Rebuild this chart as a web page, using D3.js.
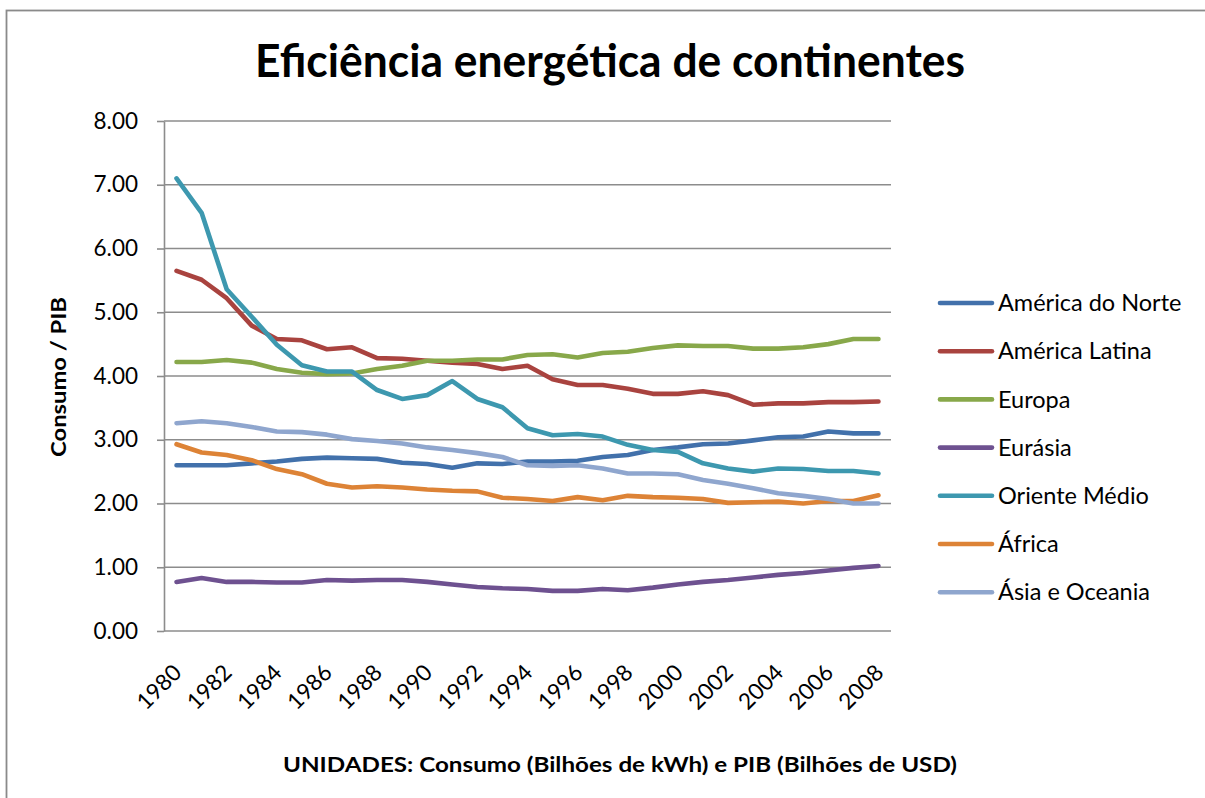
<!DOCTYPE html>
<html>
<head>
<meta charset="utf-8">
<script src="https://cdn.jsdelivr.net/npm/d3@7"></script>
<style>
  body { margin: 0; background: #fff; }
  svg text { font-family: Lato, "Open Sans", sans-serif; fill: #000; }
</style>
</head>
<body>
<div id="chart"></div>
<script>
// categories
var years = [1980,1981,1982,1983,1984,1985,1986,1987,1988,1989,1990,1991,1992,1993,1994,
             1995,1996,1997,1998,1999,2000,2001,2002,2003,2004,2005,2006,2007,2008];
var yTicks = [0,1,2,3,4,5,6,7,8];

// series values (consumo / PIB)
var americaNorte  = [2.60,2.60,2.60,2.63,2.66,2.70,2.72,2.71,2.70,2.64,2.62,2.56,2.63,2.62,2.66,2.66,2.67,2.73,2.76,2.84,2.88,2.93,2.94,2.99,3.04,3.05,3.13,3.10,3.10];
var americaLatina = [5.65,5.51,5.22,4.79,4.58,4.56,4.42,4.45,4.28,4.27,4.24,4.21,4.19,4.11,4.16,3.95,3.86,3.86,3.80,3.72,3.72,3.76,3.70,3.55,3.57,3.57,3.59,3.59,3.60];
var europa        = [4.22,4.22,4.25,4.21,4.11,4.05,4.03,4.04,4.11,4.16,4.24,4.24,4.26,4.26,4.33,4.34,4.29,4.36,4.38,4.44,4.48,4.47,4.47,4.43,4.43,4.45,4.50,4.58,4.58];
var eurasia       = [0.77,0.83,0.77,0.77,0.76,0.76,0.80,0.79,0.80,0.80,0.77,0.73,0.69,0.67,0.66,0.63,0.63,0.66,0.64,0.68,0.73,0.77,0.80,0.84,0.88,0.91,0.95,0.99,1.02];
var orienteMedio  = [7.10,6.56,5.36,4.93,4.49,4.17,4.07,4.07,3.78,3.64,3.70,3.92,3.64,3.51,3.18,3.07,3.09,3.05,2.92,2.84,2.81,2.63,2.55,2.50,2.55,2.54,2.51,2.51,2.47];
var africa        = [2.93,2.80,2.76,2.68,2.54,2.46,2.31,2.25,2.27,2.25,2.22,2.20,2.19,2.09,2.07,2.04,2.10,2.05,2.12,2.10,2.09,2.07,2.01,2.02,2.03,2.00,2.04,2.04,2.13];
var asiaOceania   = [3.26,3.29,3.26,3.20,3.13,3.12,3.08,3.01,2.98,2.94,2.88,2.84,2.79,2.73,2.60,2.59,2.60,2.55,2.47,2.47,2.46,2.37,2.31,2.24,2.16,2.12,2.07,2.00,2.00];

var seriesNames  = ['América do Norte','América Latina','Europa','Eurásia','Oriente Médio','África','Ásia e Oceania'];
var seriesValues = [americaNorte, americaLatina, europa, eurasia, orienteMedio, africa, asiaOceania];
var seriesColors = ['#4271AB','#A9433F','#88A84A','#6E5190','#3D98AF','#DD8336','#8FA6CE'];

var width = 1205, height = 798;
var plot = { left: 164, right: 891, top: 121, bottom: 631 };

var svg = d3.select('#chart').append('svg')
    .attr('width', width)
    .attr('height', height);

// chart frame (only top/left visible, like the source crop)
svg.append('rect')
    .attr('x', 6.5).attr('y', 10.5)
    .attr('width', 1400).attr('height', 1000)
    .attr('fill', 'none')
    .attr('stroke', '#8a8a8a')
    .attr('stroke-width', 1.8);

var x = d3.scalePoint().domain(years).range([plot.left, plot.right]).padding(0.5);
var y = d3.scaleLinear().domain([0, 8]).range([plot.bottom, plot.top]);

// gridlines
svg.append('g')
  .selectAll('line')
  .data(yTicks)
  .enter().append('line')
    .attr('x1', plot.left).attr('x2', plot.right)
    .attr('y1', function(d){ return y(d); })
    .attr('y2', function(d){ return y(d); })
    .attr('stroke', '#8c8c8c')
    .attr('stroke-width', 1.6);

// y axis
var yAxis = svg.append('g')
    .attr('transform', 'translate(' + plot.left + ',0)')
    .call(d3.axisLeft(y).tickValues(yTicks).tickFormat(d3.format('.2f')).tickSizeInner(7).tickSizeOuter(0).tickPadding(19));
yAxis.select('.domain').attr('stroke', '#8c8c8c').attr('stroke-width', 1.6);
yAxis.selectAll('.tick line').attr('stroke', '#8c8c8c').attr('stroke-width', 1.6);
yAxis.selectAll('.tick text')
    .style('font-size', '22.5px')
    .attr('fill', '#000');

// x axis labels (every other year)
var xAxis = svg.append('g')
    .attr('transform', 'translate(0,' + plot.bottom + ')')
    .call(d3.axisBottom(x).tickValues(years.filter(function(d, i){ return i % 2 === 0; })).tickSize(0));
xAxis.select('.domain').remove();
xAxis.selectAll('.tick text')
    .style('font-size', '22.5px')
    .attr('fill', '#000')
    .attr('text-anchor', 'end')
    .attr('dy', null)
    .attr('y', 0)
    .attr('transform', 'translate(6,43) rotate(-45)');

// lines
var line = d3.line()
    .x(function(d, i){ return x(years[i]); })
    .y(function(d){ return y(d); });

svg.append('g')
  .selectAll('path')
  .data(seriesValues)
  .enter().append('path')
    .attr('d', line)
    .attr('fill', 'none')
    .attr('stroke', function(d, i){ return seriesColors[i]; })
    .attr('stroke-width', 4.6)
    .attr('stroke-linejoin', 'round')
    .attr('stroke-linecap', 'round');

// legend
var legend = svg.append('g')
  .selectAll('g')
  .data(seriesNames)
  .enter().append('g')
    .attr('transform', function(d, i){ return 'translate(940,' + (303 + i * 48.2) + ')'; });

legend.append('line')
    .attr('x1', 0).attr('x2', 52)
    .attr('stroke', function(d, i){ return seriesColors[i]; })
    .attr('stroke-width', 4.6)
    .attr('stroke-linecap', 'round');

legend.append('text')
    .attr('x', 58)
    .attr('dy', '0.35em')
    .style('font-size', '23.5px')
    .text(function(d){ return d; });

// titles
svg.append('text')
    .attr('x', 610).attr('y', 77)
    .attr('text-anchor', 'middle')
    .attr('textLength', 710)
    .attr('lengthAdjust', 'spacingAndGlyphs')
    .style('font-size', '45px')
    .style('font-weight', 'bold')
    .text('Eficiência energética de continentes');

svg.append('text')
    .attr('transform', 'translate(66,377) rotate(-90)')
    .attr('text-anchor', 'middle')
    .attr('textLength', 160)
    .attr('lengthAdjust', 'spacingAndGlyphs')
    .style('font-size', '21px')
    .style('font-weight', 'bold')
    .text('Consumo / PIB');

svg.append('text')
    .attr('x', 620).attr('y', 772)
    .attr('text-anchor', 'middle')
    .attr('textLength', 674)
    .attr('lengthAdjust', 'spacingAndGlyphs')
    .style('font-size', '20px')
    .style('font-weight', 'bold')
    .text('UNIDADES: Consumo (Bilhões de kWh) e PIB (Bilhões de USD)');
</script>
</body>
</html>
